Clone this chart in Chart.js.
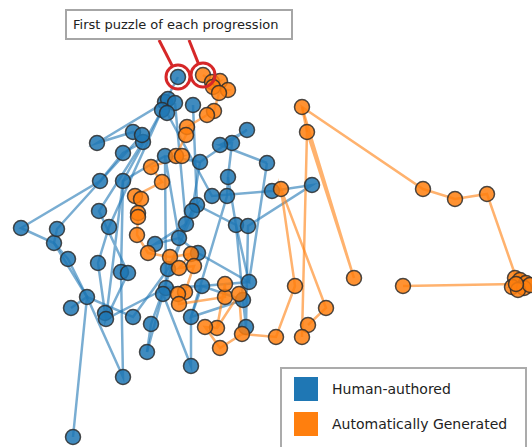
<!DOCTYPE html>
<html>
<head>
<meta charset="utf-8">
<script src="https://cdn.jsdelivr.net/npm/chart.js@4.4.1/dist/chart.umd.min.js"></script>
<style>
  body { margin: 0; background: #fff; }
  #wrap { position: relative; width: 532px; height: 447px; overflow: hidden; }
  #graphique { position: absolute; left: 0; top: 0; }
  #annot {
    position: absolute; left: 65px; top: 9px; width: 228px; height: 31px;
    box-sizing: border-box; border: 2px solid #a6a6a6; background: #fff;
    font: 13px "DejaVu Sans", Verdana, sans-serif; color: #222;
    padding-left: 6px; line-height: 27px; white-space: nowrap;
  }
  #legend {
    position: absolute; left: 280px; top: 367px; width: 247px; height: 100px;
    box-sizing: border-box; border: 2px solid #ababab; background: #fff;
    font: 14px "DejaVu Sans", Verdana, sans-serif; color: #222;
  }
  .row { position: absolute; left: 12px; height: 24px; line-height: 24px; white-space: nowrap; }
  .sw { display: inline-block; width: 24px; height: 24px; vertical-align: top; margin-right: 14px; }
</style>
</head>
<body>
<div id="wrap">
  <canvas id="graphique" width="532" height="447"></canvas>
  <div id="annot">First puzzle of each progression</div>
  <div id="legend">
    <div class="row" style="top:8px"><span class="sw" style="background:#1f77b4"></span>Human-authored</div>
    <div class="row" style="top:43px"><span class="sw" style="background:#ff7f0e"></span>Automatically Generated</div>
  </div>
</div>
<script>
// progressions (x, y in plot units)
const human1 = [[178,77],[165,102],[97,143],[133,132],[143,142],[123,153],[100,181],[21,228],[54,243],[68,259],[87,297],[73,437]]
const human2 = [[168,99],[123,181],[121,272],[123,377],[87,297],[71,308]]
const human3 = [[175,103],[186,224],[155,244],[179,238],[198,253],[249,282],[236,225],[228,177],[232,143],[220,145],[267,163]]
const human4 = [[162,110],[109,227],[98,263],[105,313],[106,319],[166,288],[163,294],[147,352]]
const human5 = [[167,113],[212,196],[272,191],[312,185],[248,226],[246,327],[243,300],[202,286],[191,317],[191,366],[163,294]]
const human6 = [[142,135],[57,229],[54,243],[87,297],[133,317],[168,269],[197,205],[192,211],[151,324],[147,352]]
const human7 = [[143,142],[99,211],[128,273],[106,319],[123,181],[165,156],[200,162],[247,130],[220,145]]
const human8 = [[200,162],[192,211],[179,238],[165,156],[166,288],[202,286],[249,282],[267,163]]
const human9 = [[193,105],[197,205],[236,225],[243,300],[191,317],[227,196],[228,177]]

const generated1 = [[203,75],[212,82],[220,81],[213,87],[228,90],[219,93],[214,111],[207,115],[187,127],[186,135],
  [176,156],[182,156],[151,167],[162,182],[135,196],[141,199],[138,213],[138,217],[137,235],[148,253],[170,257],
  [191,254],[179,268],[194,266],[185,292],[178,294],[179,304],[225,297],[225,284],[217,328],[205,327],[220,348],
  [242,334],[239,294],[217,328]]
const generated2 = [[242,334],[276,337],[295,286],[281,189],[326,308],[308,325]]
const generated3 = [[307,132],[302,107],[423,189],[455,199],[487,194],[518,283],[515,278],[520,280],[526,283],
  [512,287],[524,288],[518,290],[530,285],[516,284],[403,286]]
const generated4 = [[302,337],[307,132],[354,278],[302,107]]

const humanPaths = [human1, human2, human3, human4, human5, human6, human7, human8, human9]
const generatedPaths = [generated1, generated2, generated3, generated4]

function uniquePoints(paths){
    const seen = new Set()
    const out = []
    for (const path of paths) {
        for (const [x, y] of path) {
            const key = x + ',' + y
            if (seen.has(key)) continue
            seen.add(key)
            out.push({x, y})
        }
    }
    return out
}

function lineDataset(path, color){
    return {
        type: 'line',
        data: path.map(([x, y]) => ({x, y})),
        borderColor: color,
        borderWidth: 2.5,
        pointRadius: 0,
        showLine: true,
        fill: false,
        tension: 0,
        clip: false,
        order: 3
    }
}

function pointDataset(paths, fill, order){
    return {
        type: 'scatter',
        data: uniquePoints(paths),
        backgroundColor: fill,
        borderColor: 'rgba(45,45,45,0.85)',
        borderWidth: 1.5,
        pointRadius: 7.5,
        clip: false,
        order: order
    }
}

// red rings round the first puzzles, with leaders up to the note box
const highlight = {
    id: 'highlight',
    afterDatasetsDraw(chart){
        const ctx = chart.ctx
        const sx = chart.scales.x, sy = chart.scales.y
        const firsts = [human1[0], generated1[0]]
        const anchors = [[159, 40], [189, 40]]
        ctx.save()
        ctx.strokeStyle = '#d62728'
        ctx.lineWidth = 3
        firsts.forEach(([x, y], i) => {
            const cx = sx.getPixelForValue(x), cy = sy.getPixelForValue(y)
            const r = 12
            const [ax, ay] = anchors[i]
            const a = Math.atan2(ay - cy, ax - cx)
            ctx.beginPath()
            ctx.arc(cx, cy, r, 0, Math.PI * 2)
            ctx.stroke()
            ctx.beginPath()
            ctx.moveTo(ax, ay)
            ctx.lineTo(cx + r * Math.cos(a), cy + r * Math.sin(a))
            ctx.stroke()
        })
        ctx.restore()
    }
}

const datasets = [
    pointDataset(generatedPaths, 'rgba(255,127,14,0.85)', 1),
    pointDataset(humanPaths, 'rgba(31,119,180,0.85)', 2),
    ...generatedPaths.map(p => lineDataset(p, 'rgba(255,127,14,0.6)')),
    ...humanPaths.map(p => lineDataset(p, 'rgba(31,119,180,0.6)'))
]

const chart = new Chart(document.querySelector('#graphique'), {
    type: 'scatter',
    data: { datasets: datasets },
    options: {
        responsive: false,
        animation: false,
        devicePixelRatio: 1,
        layout: { padding: 0, autoPadding: false },
        plugins: { legend: { display: false }, tooltip: { enabled: false } },
        scales: {
            x: { type: 'linear', display: false, min: 0, max: 532 },
            y: { type: 'linear', display: false, min: 0, max: 447, reverse: true }
        }
    },
    plugins: [highlight]
})
</script>
</body>
</html>
